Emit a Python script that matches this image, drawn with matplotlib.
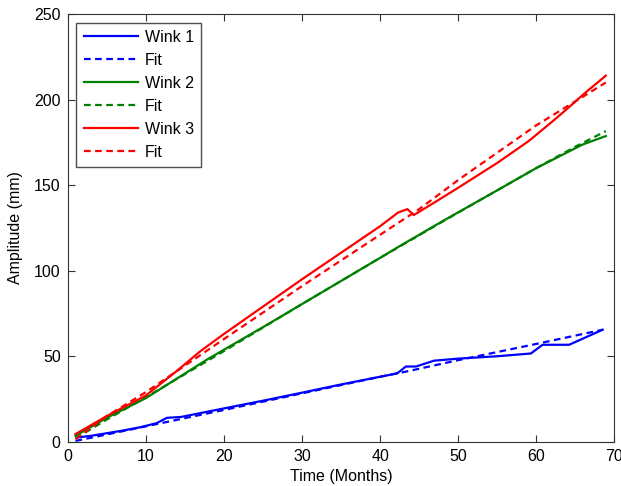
import matplotlib
matplotlib.use("Agg")
import matplotlib.pyplot as plt

plt.rcParams['font.family'] = ['Liberation Sans', 'DejaVu Sans']

# Wink 1 (blue)
w1_x = [1.2, 3, 5.4, 7, 9.3, 11.4, 12.7, 14.5, 20, 25, 30, 35, 42.2, 43.3, 44.6, 46.9, 50, 55, 59.3, 60.8, 64.2, 68.5]
w1_y = [2.5, 3.5, 5.3, 6.5, 8.5, 10.9, 14.0, 14.5, 19.5, 24.0, 28.7, 33.5, 40.0, 44.0, 44.0, 47.4, 48.6, 50.0, 51.6, 56.7, 56.7, 65.5]
f1_x = [1, 10, 20, 30, 40, 43.3, 50, 60, 68.5]
f1_y = [0.5, 9.0, 18.6, 28.3, 38.0, 41.0, 47.7, 57.2, 65.5]

# Wink 2 (green)
w2_x = [1, 5, 10, 14, 18, 25, 30, 35, 40, 42.3, 47.9, 55, 60, 65.9, 68.9]
w2_y = [3.5, 14.0, 25.5, 37.0, 48.5, 67.0, 80.5, 94.0, 107.5, 113.8, 128.7, 147.0, 160.0, 173.7, 178.7]
f2_x = [1, 5, 10, 15, 20, 30, 40, 50, 60, 65, 68.9]
f2_y = [2.0, 13.0, 26.0, 39.5, 53.0, 80.5, 107.5, 134.0, 160.0, 172.5, 181.6]

# Wink 3 (red)
w3_x = [1, 5, 10, 14, 17, 20, 30, 40, 42.3, 43.5, 44.3, 47, 50, 55, 59, 62, 64.2, 66, 68.9]
w3_y = [4.5, 15.0, 27.0, 41.5, 53.0, 63.0, 95.0, 126.0, 134.0, 136.0, 132.5, 140.0, 148.5, 163.0, 175.7, 187.0, 195.6, 203.0, 214.0]
f3_x = [1, 5, 10, 15, 20, 25, 30, 35, 40, 45, 50, 55, 60, 65, 68.9]
f3_y = [1.5, 15.0, 29.0, 44.5, 60.0, 75.5, 91.0, 106.0, 121.0, 136.0, 153.0, 169.0, 185.0, 199.0, 210.0]

labels = ['Wink 1', 'Fit', 'Wink 2', 'Fit', 'Wink 3', 'Fit']
x_ticks = [0, 10, 20, 30, 40, 50, 60, 70]
y_ticks = [0, 50, 100, 150, 200, 250]

fig = plt.figure(figsize=(6.21, 4.86), dpi=100)
ax = fig.add_axes([0.109, 0.091, 0.8804, 0.8800])

blue, green, red = (0, 0, 1), (0, 0.5, 0), (1, 0, 0)
lw = 1.6
dash = (3, 2)
ax.plot(w1_x, w1_y, color=blue, lw=lw, label=labels[0])
ax.plot(f1_x, f1_y, color=blue, lw=lw, ls='--', dashes=dash, label=labels[1])
ax.plot(w2_x, w2_y, color=green, lw=lw, label=labels[2])
ax.plot(f2_x, f2_y, color=green, lw=lw, ls='--', dashes=dash, label=labels[3])
ax.plot(w3_x, w3_y, color=red, lw=lw, label=labels[4])
ax.plot(f3_x, f3_y, color=red, lw=lw, ls='--', dashes=dash, label=labels[5])

fs = 11.5
ax.set_xlim(0, 70)
ax.set_ylim(0, 250)
ax.set_xticks(x_ticks)
ax.set_yticks(y_ticks)
ax.tick_params(direction='in', top=True, right=True, labelsize=fs, length=5, color='#333333', pad=5)
for s in ax.spines.values():
    s.set_color('#333333')
ax.set_xlabel('Time (Months)', fontsize=fs, labelpad=4)
ax.set_ylabel('Amplitude (mm)', fontsize=fs, labelpad=8)

leg = ax.legend(loc='upper left', fontsize=fs, frameon=True, fancybox=False,
                edgecolor='#222222', handlelength=3.4, labelspacing=0.5,
                borderaxespad=0.55, handletextpad=0.45, borderpad=0.45)
leg.get_frame().set_linewidth(1.0)

fig.savefig('out.png', dpi=100)
